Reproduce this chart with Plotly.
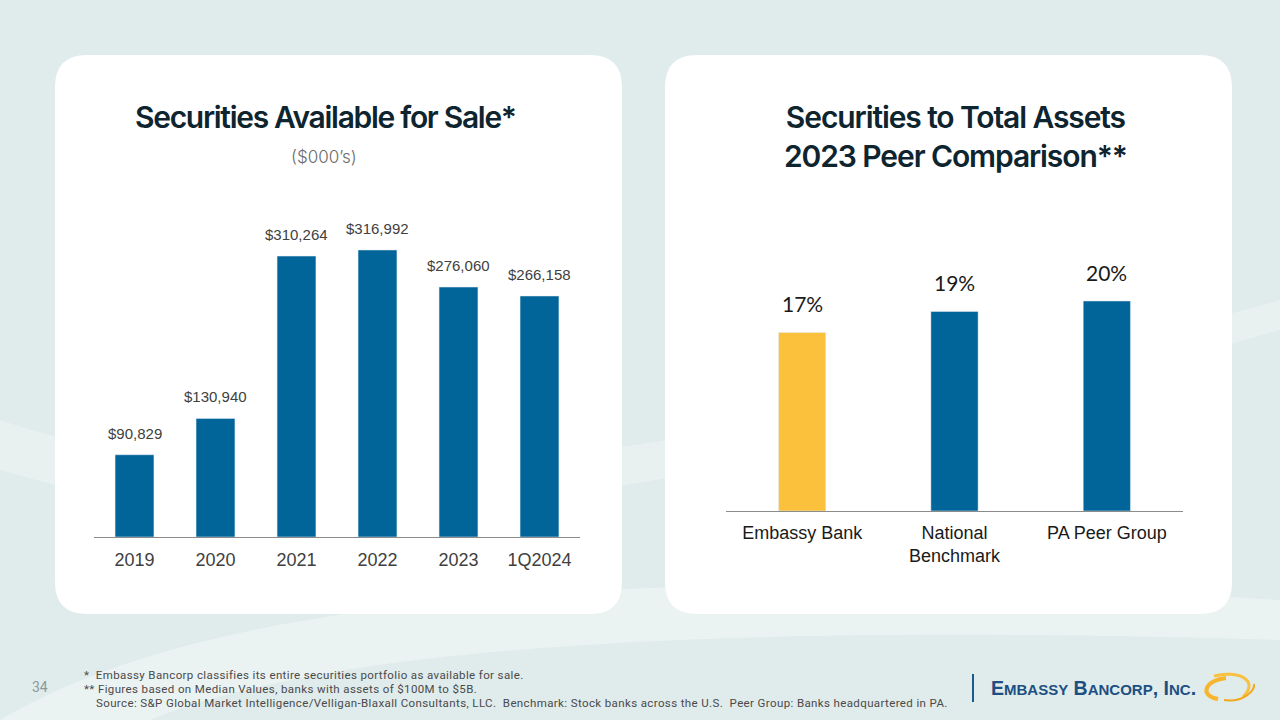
import plotly.graph_objects as go

# ---------------- data ----------------
years = ["2019", "2020", "2021", "2022", "2023", "1Q2024"]
afs_values = [90829, 130940, 310264, 316992, 276060, 266158]

peers = ["Embassy Bank", "National<br>Benchmark", "PA Peer Group"]
peer_pct = [17, 19, 20]
peer_colors = ["#fcc13c", "#026599", "#026599"]

footnotes = [
    "*  Embassy Bancorp classifies its entire securities portfolio as available for sale.",
    "** Figures based on Median Values, banks with assets of $100M to $5B.",
    "Source: S&P Global Market Intelligence/Velligan-Blaxall Consultants, LLC.  "
    "Benchmark: Stock banks across the U.S.  Peer Group: Banks headquartered in PA.",
]

W, H = 1280, 720
BLUE = "#026599"


def px(x):
    return x / W


def py(y):
    return 1 - y / H


def P(x, y):
    return f"{px(x):.5f},{py(y):.5f}"


def rrect(x0, y0, x1, y1, r):
    return (f"M{P(x0 + r, y0)} L{P(x1 - r, y0)} Q{P(x1, y0)} {P(x1, y0 + r)} "
            f"L{P(x1, y1 - r)} Q{P(x1, y1)} {P(x1 - r, y1)} L{P(x0 + r, y1)} "
            f"Q{P(x0, y1)} {P(x0, y1 - r)} L{P(x0, y0 + r)} Q{P(x0, y0)} {P(x0 + r, y0)} Z")


def cubic(p0, a, b, c):
    return f"M{P(*p0)} C{P(*a)} {P(*b)} {P(*c)}"


def band(p0, a1, b1, c1, a2, b2, c2):
    return (f"M{P(*p0)} C{P(*a1)} {P(*b1)} {P(*c1)} "
            f"L{P(*a2[0])} C{P(*a2[1])} {P(*b2)} {P(*c2)} Z")


fig = go.Figure()

fig.add_trace(go.Bar(
    x=years, y=afs_values, marker_color=BLUE, xaxis="x", yaxis="y",
    showlegend=False, hoverinfo="x+y"))

fig.add_trace(go.Bar(
    x=peers, y=peer_pct, marker_color=peer_colors, xaxis="x2", yaxis="y2",
    showlegend=False, hoverinfo="x+y", width=0.31))

annotations = []
# category axes: annotation x given as category serial number
for i, v in enumerate(afs_values):
    annotations.append(dict(
        x=i, y=v, xref="x", yref="y", text=f"${v:,}", showarrow=False,
        yanchor="bottom", yshift=11,
        font=dict(family="Liberation Sans, Arial", size=15, color="#404040")))
for i, v in enumerate(peer_pct):
    annotations.append(dict(
        x=i, y=v, xref="x2", yref="y2", text=f"{v}%", showarrow=False,
        yanchor="bottom", yshift=14,
        font=dict(family="Lato, Liberation Sans", size=21, color="#1a1a1a")))

TITLE_FONT = dict(family="Inter, Roboto", size=30, color="#0e2530", weight=600)
annotations += [
    dict(x=px(325), y=py(117), xref="paper", yref="paper", showarrow=False,
         text="<span style='letter-spacing:-1.3px'>Securities Available for Sale*</span>",
         font=TITLE_FONT, xanchor="center", yanchor="middle"),
    dict(x=px(324), y=py(157), xref="paper", yref="paper", showarrow=False,
         text="($000’s)", font=dict(family="Inter, Roboto", size=17, color="#6a6a6a", weight=300),
         xanchor="center", yanchor="middle"),
    dict(x=px(955), y=py(136), xref="paper", yref="paper", showarrow=False,
         text="<span style='letter-spacing:-1.1px'>Securities to Total Assets</span><br>"
              "<span style='letter-spacing:-1.1px'>2023 Peer Comparison**</span>",
         font=TITLE_FONT, xanchor="center", yanchor="middle"),
    dict(x=px(40), y=py(687), xref="paper", yref="paper", showarrow=False,
         text="34", font=dict(family="Roboto", size=14, color="#8a9a9a"),
         xanchor="center", yanchor="middle"),
    dict(x=px(989), y=py(688), xref="paper", yref="paper", showarrow=False,
         text=("E<span style='font-size:15px'>MBASSY</span> B<span style='font-size:15px'>ANCORP</span>,"
               " I<span style='font-size:15px'>NC</span>."),
         font=dict(family="Liberation Sans", size=19.5, color="#1d4f82", weight=700),
         xanchor="left", yanchor="middle"),
]
for i, (fx, fy) in enumerate([(82, 675), (82, 689), (94, 703)]):
    annotations.append(dict(
        x=px(fx), y=py(fy), xref="paper", yref="paper", showarrow=False,
        text=f"<span style='letter-spacing:0.38px'>{footnotes[i]}</span>",
        font=dict(family="Roboto", size=11.5, color="#4a4a4a"),
        xanchor="left", yanchor="middle"))

shapes = [
    # soft background swooshes
    dict(type="path", xref="paper", yref="paper", layer="below", line_width=0,
         fillcolor="rgba(255,255,255,0.35)",
         path=band((0, 720), (200, 600), (600, 560), (1280, 600),
                   ((1280, 640), (600, 620)), (300, 660), (150, 720))),
    dict(type="path", xref="paper", yref="paper", layer="below", line_width=0,
         fillcolor="rgba(255,255,255,0.25)",
         path=band((0, 420), (300, 520), (700, 460), (1280, 300),
                   ((1280, 330), (700, 500)), (300, 560), (0, 470))),
    # cards
    dict(type="path", xref="paper", yref="paper", layer="below",
         path=rrect(55, 55, 622, 614, 32), fillcolor="white", line_width=0),
    dict(type="path", xref="paper", yref="paper", layer="below",
         path=rrect(665, 55, 1232, 614, 32), fillcolor="white", line_width=0),
    # logo separator
    dict(type="line", xref="paper", yref="paper", x0=px(973), x1=px(973),
         y0=py(674), y1=py(702), line=dict(color="#1d5a8c", width=2)),
    # logo swoosh
    dict(type="path", xref="paper", yref="paper", line=dict(color="#f6b52a", width=4),
         path=cubic((1226, 678), (1206, 680), (1198, 695), (1218, 699))),
    dict(type="path", xref="paper", yref="paper", line=dict(color="#f9c13f", width=3),
         path=cubic((1214, 676), (1238, 670), (1260, 680), (1243, 697))),
    dict(type="path", xref="paper", yref="paper", line=dict(color="#f2a81c", width=2),
         path=cubic((1224, 700), (1243, 703), (1256, 690), (1254, 684))),
]

fig.update_layout(
    width=W, height=H, autosize=False,
    margin=dict(l=0, r=0, t=0, b=0),
    paper_bgcolor="#e0ebeb", plot_bgcolor="rgba(0,0,0,0)",
    bargap=0.52,
    annotations=annotations, shapes=shapes,
    xaxis=dict(domain=[px(94), px(580)], type="category", range=[-0.5, len(years) - 0.5],
               showline=True, linecolor="#8c8c8c",
               linewidth=1, ticks="outside", ticklen=6, tickcolor="rgba(0,0,0,0)",
               showgrid=False,
               tickfont=dict(family="Liberation Sans, Arial", size=18, color="#404040"),
               fixedrange=True),
    yaxis=dict(domain=[py(537), py(200)], range=[0, 372200], visible=False,
               showgrid=False, fixedrange=True),
    xaxis2=dict(domain=[px(726), px(1183)], anchor="y2", type="category",
                range=[-0.5, len(peers) - 0.5], showline=True,
                linecolor="#8c8c8c", linewidth=1, ticks="outside", ticklen=5,
                tickcolor="rgba(0,0,0,0)", showgrid=False,
                tickfont=dict(family="Liberation Sans, Arial", size=18, color="#1a1a1a"),
                fixedrange=True),
    yaxis2=dict(domain=[py(511), py(230)], anchor="x2", range=[0, 26.76], visible=False,
                showgrid=False, fixedrange=True),
)

fig.write_html("out.html", config={"displayModeBar": False},
               post_script="document.body.style.margin='0';")
